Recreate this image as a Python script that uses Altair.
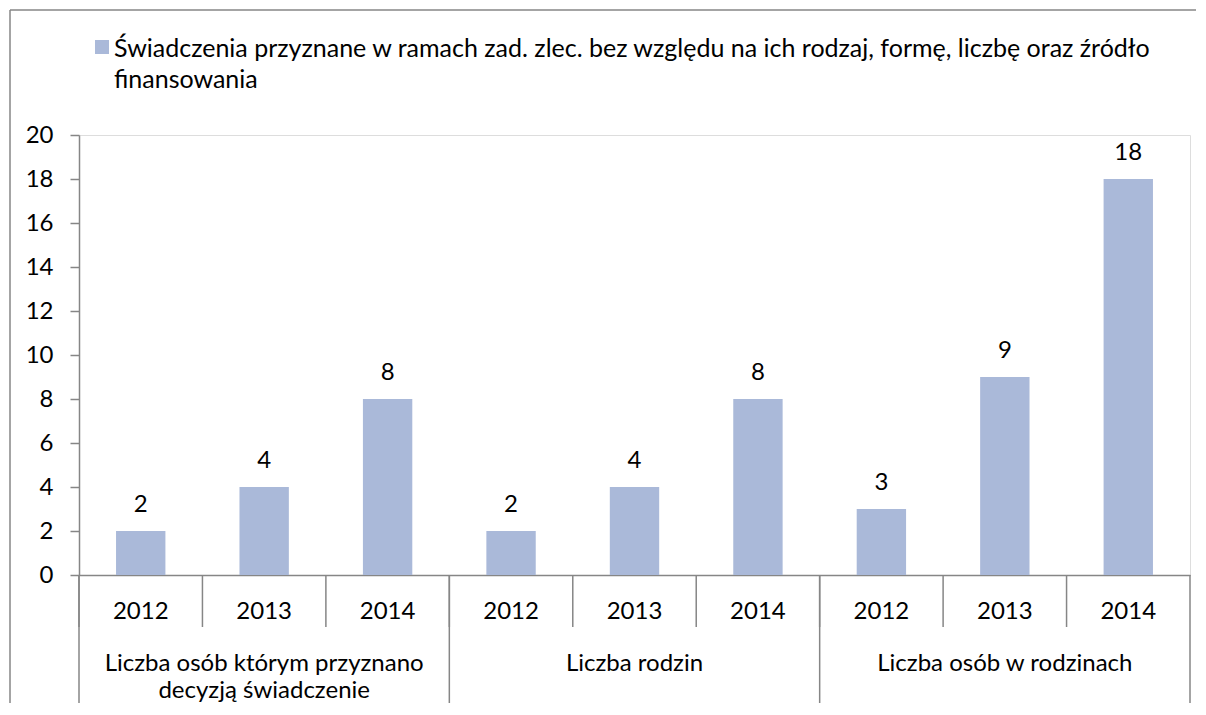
import altair as alt
import pandas as pd

# ---- data ----
group_labels = ["Liczba osób którym przyznano\ndecyzją świadczenie", "Liczba rodzin", "Liczba osób w rodzinach"]
years = ["2012", "2013", "2014"]
values_osoby_decyzja = [2, 4, 8]
values_rodziny = [2, 4, 8]
values_osoby_w_rodzinach = [3, 9, 18]
series_label = ("Świadczenia przyznane w ramach zad. zlec. bez względu na ich rodzaj, formę, liczbę oraz źródło\n"
                "finansowania")
y_ticks = [0, 2, 4, 6, 8, 10, 12, 14, 16, 18, 20]

series = [values_osoby_decyzja, values_rodziny, values_osoby_w_rodzinach]
rows = []
keys = []
for gi, vals in enumerate(series):
    for y, v in zip(years, vals):
        k = f"g{gi}|{y}"
        keys.append(k)
        rows.append({"key": k, "value": v})
df = pd.DataFrame(rows)

gdf = pd.DataFrame({
    "first": [f"g{i}|{years[0]}" for i in range(len(group_labels))],
    "mid": [f"g{i}|{years[1]}" for i in range(len(group_labels))],
    "label": group_labels,
})
last_df = pd.DataFrame({"last": [keys[-1]]})
one = pd.DataFrame({"a": [1]})

# ---- style ----
FONT = "Lato"
FS = 24
FS_LEG = 25
BAR = "#AAB9D9"
GRAY = "#868686"
W, H = 1111, 440

xscale = alt.Scale(domain=keys, paddingInner=0, paddingOuter=0)
xaxis = alt.Axis(title=None, labelExpr="split(datum.label, '|')[1]", ticks=False,
                 domainColor=GRAY, domainWidth=1.5, labelAngle=0, labelFontSize=FS,
                 labelFont=FONT, labelColor="black", labelPadding=24)
yaxis = alt.Axis(title=None, values=y_ticks, grid=False, tickColor=GRAY, tickWidth=1.5,
                 tickSize=9, domainColor=GRAY, domainWidth=1.5, labelFontSize=FS,
                 labelFont=FONT, labelColor="black", labelPadding=17)

base = alt.Chart(df)

bars = base.mark_bar(color=BAR, width=alt.RelativeBandSize(0.4)).encode(
    x=alt.X("key:N", sort=keys, scale=xscale, axis=xaxis),
    y=alt.Y("value:Q", scale=alt.Scale(domain=[0, 20], nice=False), axis=yaxis),
)

value_labels = base.mark_text(baseline="alphabetic", dy=-19, fontSize=FS, font=FONT, color="black").encode(
    x=alt.X("key:N", sort=keys),
    y="value:Q",
    text="value:Q",
)

year_rules = base.mark_rule(color=GRAY, strokeWidth=1.5).encode(
    x=alt.X("key:N", sort=keys, bandPosition=0),
    y=alt.value(H),
    y2=alt.value(H + 52),
)

group_rules = alt.Chart(gdf).mark_rule(color=GRAY, strokeWidth=1.5).encode(
    x=alt.X("first:N", bandPosition=0),
    y=alt.value(H),
    y2=alt.value(H + 400),
)
group_rule_end = alt.Chart(last_df).mark_rule(color=GRAY, strokeWidth=1.5).encode(
    x=alt.X("last:N", bandPosition=1),
    y=alt.value(H),
    y2=alt.value(H + 400),
)

group_text = alt.Chart(gdf).mark_text(align="center", baseline="alphabetic", lineBreak="\n",
                                      lineHeight=27, fontSize=FS, font=FONT, color="black").encode(
    x=alt.X("mid:N"),
    y=alt.value(H + 96),
    text="label:N",
)

legend_swatch = alt.Chart(one).mark_rect(color=BAR).encode(
    x=alt.value(16), x2=alt.value(30), y=alt.value(-95), y2=alt.value(-81)
)
legend_text = alt.Chart(one).mark_text(align="left", baseline="alphabetic", lineBreak="\n",
                                       lineHeight=31, fontSize=FS_LEG, font=FONT, color="black").encode(
    x=alt.value(35), y=alt.value(-78), text=alt.value(series_label)
)

# outer chart-area border (top and left edges; right/bottom lie outside the picture)
frame_top = alt.Chart(one).mark_rule(color=GRAY, strokeWidth=1.5).encode(
    x=alt.value(-69), x2=alt.value(W + 300), y=alt.value(-125), y2=alt.value(-125)
)
frame_left = alt.Chart(one).mark_rule(color=GRAY, strokeWidth=1.5).encode(
    x=alt.value(-69), x2=alt.value(-69), y=alt.value(-125), y2=alt.value(H + 400)
)
# white strip along the right edge of the drawing (the reference shows nothing there)
edge_mask = alt.Chart(one).mark_rect(color="white", strokeWidth=0).encode(
    x=alt.value(W + 2), x2=alt.value(W + 40), y=alt.value(-124), y2=alt.value(H + 400)
)

chart = alt.layer(
    frame_top, frame_left, bars, value_labels, year_rules, group_rules, group_rule_end, group_text,
    legend_swatch, legend_text, edge_mask
).properties(
    width=W, height=H,
    autosize=alt.AutoSizeParams(type="none"),
    padding={"left": 71, "top": 127, "right": 6, "bottom": 128},
).configure_view(stroke=None).configure(font=FONT, background="white")

chart.save("out.html", embed_options={"renderer": "svg", "actions": False})
